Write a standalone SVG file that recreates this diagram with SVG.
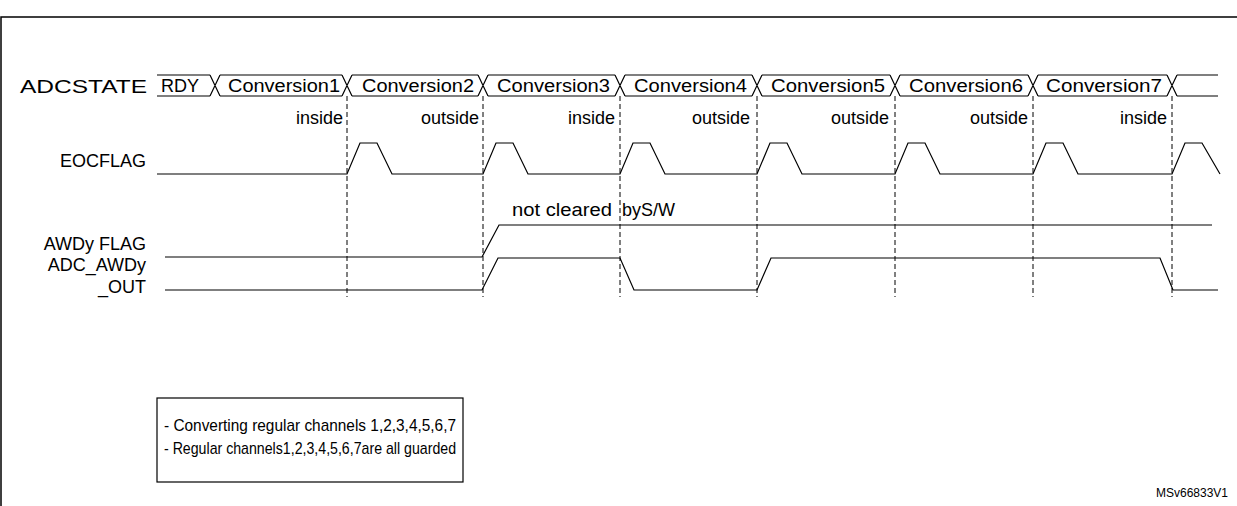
<svg xmlns="http://www.w3.org/2000/svg" width="1237" height="506" viewBox="0 0 1237 506">
<style>
text{font-family:"Liberation Sans",Arial,sans-serif;font-size:18px;fill:#000}
.s{fill:none;stroke:#000;stroke-width:1.2}
.d{fill:none;stroke:#000;stroke-width:1;stroke-dasharray:5,3}
.r{text-anchor:end}
.n{font-size:17px}
</style>
<rect x="1" y="17" width="1250" height="500" fill="#fff" stroke="#000" stroke-width="1.5"/>
<g id="labels">
<text x="20" y="93" textLength="127" lengthAdjust="spacingAndGlyphs">ADCSTATE</text>
<text x="146" y="167" class="r">EOCFLAG</text>
<text x="146" y="250" class="r">AWDy FLAG</text>
<text x="146" y="271" class="r">ADC_AWDy</text>
<text x="146" y="293" class="r">_OUT</text>
</g>
<g id="adcstate">
<path class="s" d="M157,75H210M220,75H342M352,75H478M488,75H615M625,75H752M762,75H890M900,75H1028M1038,75H1167M1177,75H1218"/>
<path class="s" d="M157,96H210M220,96H342M352,96H478M488,96H615M625,96H752M762,96H890M900,96H1028M1038,96H1167M1177,96H1218"/>
<path class="s" d="M210,75L220,96M210,96L220,75M342,75L352,96M342,96L352,75M478,75L488,96M478,96L488,75M615,75L625,96M615,96L625,75M752,75L762,96M752,96L762,75M890,75L900,96M890,96L900,75M1028,75L1038,96M1028,96L1038,75M1167,75L1177,96M1167,96L1177,75"/>
<text x="161" y="92">RDY</text>
<text x="228" y="92" textLength="112" lengthAdjust="spacingAndGlyphs">Conversion1</text>
<text x="362" y="92" textLength="112" lengthAdjust="spacingAndGlyphs">Conversion2</text>
<text x="497" y="92" textLength="113" lengthAdjust="spacingAndGlyphs">Conversion3</text>
<text x="634" y="92" textLength="113" lengthAdjust="spacingAndGlyphs">Conversion4</text>
<text x="771" y="92" textLength="114" lengthAdjust="spacingAndGlyphs">Conversion5</text>
<text x="909" y="92" textLength="114" lengthAdjust="spacingAndGlyphs">Conversion6</text>
<text x="1046" y="92" textLength="116" lengthAdjust="spacingAndGlyphs">Conversion7</text>
</g>
<g id="windows">
<text x="343" y="124" class="r">inside</text>
<text x="479" y="124" class="r">outside</text>
<text x="615" y="124" class="r">inside</text>
<text x="750" y="124" class="r">outside</text>
<text x="889" y="124" class="r">outside</text>
<text x="1028" y="124" class="r">outside</text>
<text x="1167" y="124" class="r">inside</text>
</g>
<g id="connectors">
<path class="d" d="M347,96V297M483,96V297M620,96V297M757,96V297M895,96V297M1033,96V297M1172,96V297"/>
</g>
<g id="eocflag">
<path class="s" d="M157,174 H347 L360,143 H377 L392,174 H483 L496,143 H513 L528,174 H620 L633,143 H650 L665,174 H757 L770,143 H787 L802,174 H895 L908,143 H925 L940,174 H1033 L1046,143 H1063 L1078,174 H1172 L1185,143 H1202 L1220,174"/>
</g>
<g id="awdyflag">
<path class="s" d="M165,257 H482 L499,225 H1212"/>
<text x="512" y="216" textLength="100" lengthAdjust="spacingAndGlyphs">not cleared</text>
<text x="622" y="216">byS/W</text>
</g>
<g id="adcawdyout">
<path class="s" d="M165,290 H482 L498,258 H620 L634,290 H757 L771,258 H1160 L1173,290 H1218"/>
</g>
<g id="note">
<rect x="157" y="398" width="306" height="84" fill="none" stroke="#000" stroke-width="1.2"/>
<text x="164" y="431" class="n" textLength="292" lengthAdjust="spacingAndGlyphs">- Converting regular channels 1,2,3,4,5,6,7</text>
<text x="164" y="454" class="n" textLength="292" lengthAdjust="spacingAndGlyphs">- Regular channels1,2,3,4,5,6,7are all guarded</text>
</g>
<text x="1228" y="497" class="r" style="font-size:12px">MSv66833V1</text>
</svg>
